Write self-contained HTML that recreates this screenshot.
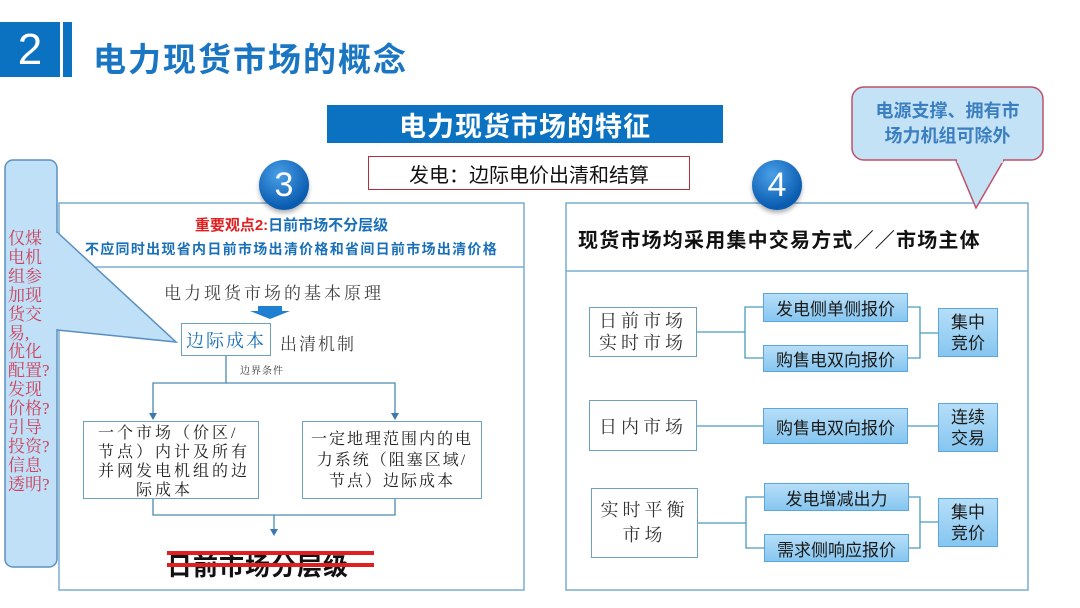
<!DOCTYPE html>
<html><head><meta charset="utf-8"><style>
*{margin:0;padding:0;box-sizing:border-box}
body{width:1080px;height:608px;background:#fff;position:relative;overflow:hidden;font-family:"Liberation Sans","Noto Sans CJK SC",sans-serif}
.a{position:absolute}
.c{display:flex;align-items:center;justify-content:center;text-align:center}
.serif{font-family:"Liberation Serif","Noto Serif CJK SC",serif}
.bx{border:1.5px solid #6f9fbf;background:#fff}
.bl{background:linear-gradient(#b6def8,#86c6f0);border:1.5px solid #5aa7e0;color:#1a1a1a;font-size:17px}
.circ{width:50px;height:50px;border-radius:50%;background:radial-gradient(circle at 40% 30%,#4aa0e8,#0a5cb0 70%);color:#fff;font-size:34px;box-shadow:0 3px 4px rgba(0,0,0,.3)}
</style></head><body>
<div class="a c" style="left:0;top:22px;width:60px;height:55px;background:#0a72c0;color:#fff;font-size:44px">2</div>
<div class="a" style="left:63px;top:22px;width:9px;height:55px;background:#0a72c0"></div>
<div class="a" style="left:93px;top:33px;font-size:33px;font-weight:bold;color:#1a75c2;letter-spacing:2px">电力现货市场的概念</div>

<div class="a c" style="left:327px;top:105px;width:396px;height:38px;background:#0a72c0;color:#fff;font-size:27px;font-weight:bold;letter-spacing:1px">电力现货市场的特征</div>
<div class="a c" style="left:368px;top:156px;width:322px;height:34px;border:1.5px solid #b03040;font-size:20px;color:#111">发电：边际电价出清和结算</div>

<svg class="a" style="left:0;top:0" width="1080" height="608">
<rect x="59" y="203" width="465" height="387" fill="#fff" stroke="#7aaed0" stroke-width="1.5"/>
<line x1="59" y1="267" x2="524" y2="267" stroke="#7aaed0" stroke-width="1.5"/>
<rect x="566" y="203" width="462" height="387" fill="#fff" stroke="#7aaed0" stroke-width="1.5"/>
<line x1="566" y1="271" x2="1028" y2="271" stroke="#7aaed0" stroke-width="1.5"/>
<path d="M57 232 L176 342 L57 330" fill="#bfe0f7" stroke="#5b8fc0" stroke-width="1.5"/>
<rect x="5" y="160" width="52" height="407" rx="8" fill="#bfe0f7" stroke="#5b8fc0" stroke-width="1.5"/>
<rect x="50" y="233" width="8" height="96" fill="#bfe0f7"/>
<path d="M955 158 L976 208 L1005 158" fill="#c4e2f6" stroke="#c0506a" stroke-width="1.5"/>
<rect x="852" y="87" width="191" height="73" rx="12" fill="#c4e2f6" stroke="#c0506a" stroke-width="1.5"/>
<rect x="957" y="155" width="46" height="8" fill="#c4e2f6"/>
<path d="M258 306 H282 V311 H290 L270 319 L250 311 H258 Z" fill="#1f7fd0"/>
<g stroke="#4a8ab0" stroke-width="1.3" fill="none">
<line x1="226" y1="356" x2="226" y2="383"/>
<polyline points="153,419 153,383 395,383 395,419"/>
<polyline points="153,499 153,515 395,515 395,499"/>
<line x1="274" y1="515" x2="274" y2="533"/>
</g>
<g fill="#3a7ab0">
<path d="M149 413 L157 413 L153 420 Z"/><path d="M391 413 L399 413 L395 420 Z"/><path d="M270 529 L278 529 L274 536 Z"/>
</g>
<g stroke="#4a9ac0" stroke-width="1.3" fill="none">
<line x1="697" y1="332" x2="745" y2="332"/>
<polyline points="763,307 745,307 745,358 763,358"/>
<polyline points="908,307 920,307 920,358 908,358"/>
<line x1="920" y1="333" x2="938" y2="333"/>
<line x1="697" y1="426" x2="763" y2="426"/>
<line x1="908" y1="426" x2="938" y2="426"/>
<line x1="698" y1="523" x2="746" y2="523"/>
<polyline points="764,497 746,497 746,548 764,548"/>
<polyline points="908,497 920,497 920,548 908,548"/>
<line x1="920" y1="522" x2="938" y2="522"/>
</g>
</svg>

<div class="a circ c" style="left:259px;top:160px">3</div>
<div class="a circ c" style="left:752px;top:160px">4</div>

<div class="a serif" style="left:8px;top:230px;width:48px;font-size:17px;line-height:18.9px;color:#d0405a">仅煤<br>电机<br>组参<br>加现<br>货交<br>易,<br>优化<br>配置?<br>发现<br>价格?<br>引导<br>投资?<br>信息<br>透明?</div>

<div class="a" style="left:59px;top:214px;width:465px;text-align:center;font-size:15px;font-weight:bold"><span style="color:#e02020">重要观点2:</span><span style="color:#1a70b8">日前市场不分层级</span></div>
<div class="a" style="left:59px;top:239px;width:465px;text-align:center;font-size:14px;font-weight:bold;color:#1a70b8;letter-spacing:1.3px;white-space:nowrap">不应同时出现省内日前市场出清价格和省间日前市场出清价格</div>
<div class="a serif" style="left:164px;top:279px;font-size:17px;color:#444;letter-spacing:3px">电力现货市场的基本原理</div>
<div class="a bx c serif" style="left:181px;top:323px;width:90px;height:33px;font-size:18px;color:#1a70b8;letter-spacing:2px">边际成本</div>
<div class="a serif" style="left:280px;top:330px;font-size:17px;color:#444;letter-spacing:2px">出清机制</div>
<div class="a serif" style="left:240px;top:362px;font-size:10px;color:#333;letter-spacing:1px">边界条件</div>
<div class="a bx serif" style="left:83px;top:421px;width:176px;height:78px;font-size:16px;line-height:19px;color:#222;letter-spacing:3px;padding:2px 0 0 14px;white-space:nowrap">一个市场（价区/<br>节点）内计及所有<br>并网发电机组的边<br>　　际成本</div>
<div class="a bx c serif" style="left:302px;top:421px;width:180px;height:78px;font-size:16px;line-height:21px;color:#222;letter-spacing:2px;padding:0 6px">一定地理范围内的电力系统（阻塞区域/节点）边际成本</div>
<div class="a" style="left:167px;top:547px;font-size:25px;font-weight:bold;color:#111;letter-spacing:1px">日前市场分层级</div>
<div class="a" style="left:167px;top:551px;width:207px;height:4px;background:#e02020"></div>
<div class="a" style="left:167px;top:563px;width:207px;height:4px;background:#e02020"></div>

<div class="a" style="left:852px;top:99px;width:191px;text-align:center;font-size:18px;line-height:25px;font-weight:bold;color:#3b7fc0">电源支撑、拥有市<br>场力机组可除外</div>
<div class="a" style="left:578px;top:224px;font-size:20px;font-weight:bold;color:#111;white-space:nowrap;letter-spacing:1.2px">现货市场均采用集中交易方式／／市场主体</div>

<div class="a bx c serif" style="left:589px;top:307px;width:108px;height:50px;font-size:18px;line-height:22px;color:#333;letter-spacing:4px">日前市场<br>实时市场</div>
<div class="a bx c serif" style="left:589px;top:400px;width:108px;height:51px;font-size:18px;color:#333;letter-spacing:4px">日内市场</div>
<div class="a bx c serif" style="left:591px;top:488px;width:107px;height:70px;font-size:18px;line-height:25px;color:#333;letter-spacing:4px">实时平衡<br>市场</div>

<div class="a bl c" style="left:763px;top:293px;width:145px;height:29px">发电侧单侧报价</div>
<div class="a bl c" style="left:763px;top:345px;width:145px;height:27px">购售电双向报价</div>
<div class="a bl c" style="left:763px;top:408px;width:145px;height:36px">购售电双向报价</div>
<div class="a bl c" style="left:764px;top:483px;width:145px;height:28px">发电增减出力</div>
<div class="a bl c" style="left:764px;top:534px;width:145px;height:28px">需求侧响应报价</div>

<div class="a bl c" style="left:938px;top:308px;width:60px;height:49px;line-height:21px">集中<br>竞价</div>
<div class="a bl c" style="left:938px;top:403px;width:60px;height:49px;line-height:21px">连续<br>交易</div>
<div class="a bl c" style="left:938px;top:498px;width:60px;height:49px;line-height:21px">集中<br>竞价</div>
</body></html>
